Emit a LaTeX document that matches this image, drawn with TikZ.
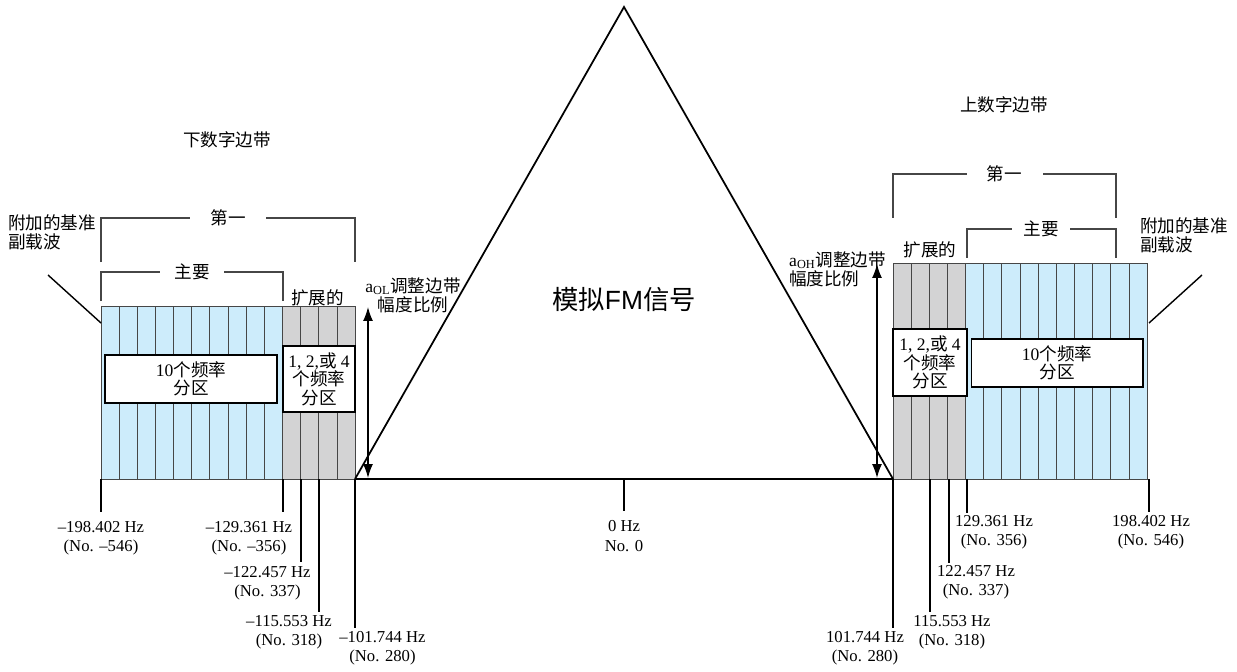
\documentclass[tikz,border=0pt]{standalone}
\usepackage{fontspec}
\setmainfont{Liberation Serif}
\newfontfamily\cjk{Noto Sans CJK SC}
\newfontfamily\sansfm{Liberation Sans}
\usetikzlibrary{arrows.meta}

\definecolor{mainblue}{RGB}{205,236,251}
\definecolor{extgray}{RGB}{211,211,212}
\definecolor{edgegray}{RGB}{70,70,70}
\newcommand{\zh}[1]{{\cjk #1}}

\tikzset{
  cell/.style={draw=edgegray, line width=0.5pt},
  partbox/.style={draw=black, fill=white, line width=0.6pt, align=center, inner sep=0pt, font=\fontsize{10}{10.5}\selectfont},
  bracket/.style={draw=edgegray, line width=1pt},
  bracketlabel/.style={fill=white, inner sep=0pt, minimum height=0.4cm, font=\fontsize{10}{12}\selectfont\cjk},
  zhlabel/.style={font=\fontsize{10}{11}\selectfont\cjk},
  mixlabel/.style={font=\fontsize{10}{11}\selectfont},
  freqlabel/.style={align=center, font=\fontsize{9.5}{11}\selectfont},
  tickline/.style={line width=1pt},
  leader/.style={line width=0.8pt},
  ampl/.style={line width=0.8pt, {Latex[length=2.8mm,width=2mm]}-{Latex[length=2.8mm,width=2mm]}},
  signal/.style={line width=1pt},
  axis/.style={line width=1.2pt}
}

\begin{document}
\begin{tikzpicture}[x=0.02cm, y=-0.02cm]
  % Parameters
  \def\cellw{18.15}
  \def\numcells{14}
  \pgfmathtruncatemacro{\lastcell}{\numcells-1}
  \useasboundingbox (0,0) rectangle (1237,672);

  % Lower sideband cells
  \foreach \i in {0,...,\lastcell} {
      \pgfmathsetmacro{\xl}{101+\i*\cellw}
      \ifnum\i<10 \def\cellcol{mainblue}\else\def\cellcol{extgray}\fi
      \draw[cell, fill=\cellcol] (\xl,306) rectangle ++(\cellw,173);
    }

  % Upper sideband cells
  \foreach \i in {0,...,\lastcell} {
      \pgfmathsetmacro{\xr}{893+\i*\cellw}
      \ifnum\i<4 \def\cellcol{extgray}\else\def\cellcol{mainblue}\fi
      \draw[cell, fill=\cellcol] (\xr,263) rectangle ++(\cellw,216);
    }

  % Partition boxes
  \node[partbox, minimum width=3.44cm, minimum height=0.96cm] (lmain) at (191,379) {10\zh{个频率}\\\zh{分区}};
  \node[partbox, minimum width=1.44cm, minimum height=1.32cm] (lext) at (319,379) {1, 2,\zh{或} 4\\\zh{个频率}\\\zh{分区}};
  \node[partbox, minimum width=1.48cm, minimum height=1.34cm] (rext) at (930,362.5) {1, 2,\zh{或} 4\\\zh{个频率}\\\zh{分区}};
  \node[partbox, minimum width=3.44cm, minimum height=0.96cm] (rmain) at (1057,363) {10\zh{个频率}\\\zh{分区}};

  % Brackets
  \coordinate (lfa) at (101,262);
  \coordinate (lfb) at (355,262);
  \draw[bracket] (lfa) -- ++(0,-44) -| node[pos=0.25, bracketlabel, minimum width=1.54cm] (lfirst) {第一} (lfb);
  \coordinate (lpa) at (101,301);
  \coordinate (lpb) at (283,301);
  \draw[bracket] (lpa) -- ++(0,-29) -| node[pos=0.25, bracketlabel, minimum width=1.28cm] (lprim) {主要} (lpb);
  \coordinate (ufa) at (893,218);
  \coordinate (ufb) at (1116,218);
  \draw[bracket] (ufa) -- ++(0,-44) -| node[pos=0.25, bracketlabel, minimum width=1.52cm] (ufirst) {第一} (ufb);
  \coordinate (upa) at (966.7,258);
  \coordinate (upb) at (1116,258);
  \draw[bracket] (upa) -- ++(0,-29) -| node[pos=0.25, bracketlabel, minimum width=1.16cm] (uprim) {主要} (upb);

  % Labels above the blocks
  \node[zhlabel] (lextlab) at (317.5,298) {扩展的};
  \node[zhlabel] (uextlab) at (930,250) {扩展的};
  \node[zhlabel] (lsb) at (227,140) {下数字边带};
  \node[zhlabel] (usb) at (1004,105) {上数字边带};
  \node[zhlabel, align=left, anchor=west] (lref) at (2,232) {附加的基准\\副载波};
  \node[zhlabel, align=left, anchor=west] (uref) at (1134,235) {附加的基准\\副载波};
  \coordinate (lrefend) at (48,275);
  \coordinate (lrefblk) at (101,323);
  \draw[leader] (lrefend) -- (lrefblk);
  \coordinate (urefend) at (1202,275);
  \coordinate (urefblk) at (1149,323);
  \draw[leader] (urefblk) -- (urefend);

  % Analog signal
  \coordinate (tl) at (355,479);
  \coordinate (tr) at (893,479);
  \coordinate (apex) at (624,7);
  \draw[signal] (tl) -- (apex) -- (tr);
  \draw[axis] (tl) -- (tr);
  \node[font=\fontsize{15}{15}\selectfont] (fm) at (624,300) {\zh{模拟}\sansfm FM\zh{信号}};

  % Sideband amplitude arrows
  \coordinate (olt) at (368,307);
  \coordinate (olb) at (368,478);
  \draw[ampl] (olt) -- (olb);
  \node[mixlabel, align=center] (ollab) at (413,295) {a\textsubscript{OL}\zh{调整边带}\\\zh{幅度比例}};
  \coordinate (oht) at (877,264);
  \coordinate (ohb) at (877,478);
  \draw[ampl] (oht) -- (ohb);
  \node[mixlabel, align=left, anchor=west] (ohlab) at (783,269) {a\textsubscript{OH}\zh{调整边带}\\\zh{幅度比例}};

  % Center tick
  \coordinate (ctick) at (624,479);
  \coordinate (ctickend) at (624,511);
  \draw[tickline] (ctick) -- (ctickend);
  \node[freqlabel] (cfreq) at (624,536) {0 Hz\\No. 0};

  % Lower frequency ticks
  \foreach \n/\xt/\ye/\lx/\ly/\hz/\no in {
      1/101/512/101/538/{--198.402 Hz}/{(No. --546)},
      2/283/512/249/538/{--129.361 Hz}/{(No. --356)},
      3/301/562/267.5/583/{--122.457 Hz}/{(No. 337)},
      4/319/612/289/632.5/{--115.553 Hz}/{(No. 318)},
      5/355/628/382.5/648.5/{--101.744 Hz}/{(No. 280)}} {
      \coordinate (ltick\n) at (\xt,479);
      \coordinate (ltickend\n) at (\xt,\ye);
      \draw[tickline] (ltick\n) -- (ltickend\n);
      \node[freqlabel] (lfreq\n) at (\lx,\ly) {\hz\\\no};
    }

  % Upper frequency ticks
  \foreach \n/\xt/\ye/\lx/\ly/\hz/\no in {
      1/1149/512/1151/532.5/{198.402 Hz}/{(No. 546)},
      2/966.7/513/994/532.5/{129.361 Hz}/{(No. 356)},
      3/948.7/563/976/582.5/{122.457 Hz}/{(No. 337)},
      4/930/612/952/632.5/{115.553 Hz}/{(No. 318)},
      5/893/628/865/648.5/{101.744 Hz}/{(No. 280)}} {
      \coordinate (utick\n) at (\xt,479);
      \coordinate (utickend\n) at (\xt,\ye);
      \draw[tickline] (utick\n) -- (utickend\n);
      \node[freqlabel] (ufreq\n) at (\lx,\ly) {\hz\\\no};
    }
\end{tikzpicture}
\end{document}
